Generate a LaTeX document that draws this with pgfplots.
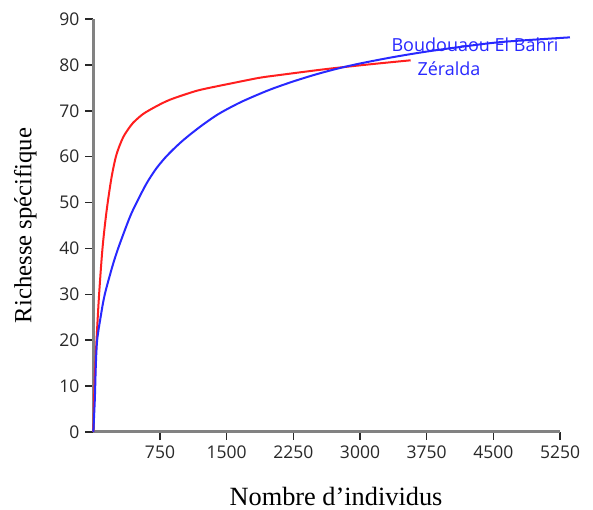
\documentclass[border=0pt]{standalone}
\usepackage{fontspec}
\setmainfont{Liberation Serif}
\newfontfamily\tickfont{Open Sans}
\usepackage{pgfplots}
\pgfplotsset{compat=1.18}
\definecolor{axgray}{RGB}{130,130,130}
\definecolor{tkgray}{RGB}{40,40,40}
\definecolor{cred}{RGB}{255,30,30}
\definecolor{cblue}{RGB}{40,40,255}
\begin{document}
\begin{tikzpicture}
\begin{axis}[
  name=ax,
  width=280pt, height=247.8pt, scale only axis,
  xmin=0, xmax=5250, ymin=0, ymax=90,
  axis x line*=bottom, axis y line*=left,
  axis line style={axgray, line width=1.8pt, -},
  xtick={750,1500,2250,3000,3750,4500,5250},
  ytick={0,10,...,90},
  tick align=outside,
  major tick length=4.8pt,
  tick style={tkgray, line width=0.9pt},
  /pgf/number format/assume math mode=true,
  /pgf/number format/1000 sep={},
  ticklabel style={font=\tickfont\fontsize{10.5}{12}\selectfont, text=tkgray},
  xlabel={Nombre d’individus},
  ylabel={Richesse spécifique},
  xlabel style={at={(axis description cs:0.52,-0.155)}, anchor=center, font=\fontsize{15.8}{18}\selectfont},
  ylabel style={at={(axis description cs:-0.146,0.5)}, anchor=center, font=\fontsize{14.8}{18}\selectfont},
  clip=false,
]
\addplot[cred, line width=1.2pt, smooth, tension=0.5] coordinates {
(0,0) (13,10) (36,20) (65,30) (103,40) (148,48) (205,55.5) (261,60.5) (335,64.2) (411,66.5)
(448,67.4) (560,69.3) (711,71.0) (861,72.4) (1086,73.9) (1235,74.7) (1611,76.2) (1873,77.2)
(2098,77.8) (2624,79.1) (3100,80.1) (3570,81.0)
};
\addplot[cblue, line width=1.2pt, smooth, tension=0.5] coordinates {
(0,0) (17,7.2) (28,14.4) (43,20) (84,25.3) (129,30) (216,36.2) (279,40) (374,45) (430,47.7)
(500,50.5) (600,54.2) (700,57.2) (800,59.6) (900,61.6) (1000,63.4) (1100,65.0) (1200,66.5)
(1300,67.9) (1400,69.2) (1500,70.3) (1650,71.8) (1800,73.1) (2000,74.7) (2250,76.4) (2500,77.9)
(2750,79.2) (3000,80.3) (3375,81.7) (3750,82.9) (4125,83.9) (4600,85.0) (5362,86.0)
};
\node[font=\tickfont\fontsize{10.8}{12}\selectfont, text=cblue] at (axis cs:4294,84.3) {Boudouaou El Bahri};
\node[font=\tickfont\fontsize{10.8}{12}\selectfont, text=cblue] at (axis cs:4001,79.1) {Zéralda};
\end{axis}
\pgfresetboundingbox
\path ([xshift=-56pt,yshift=-46.8pt]ax.south west) rectangle ([xshift=19.8pt,yshift=11.4pt]ax.north east);
\end{tikzpicture}
\end{document}
